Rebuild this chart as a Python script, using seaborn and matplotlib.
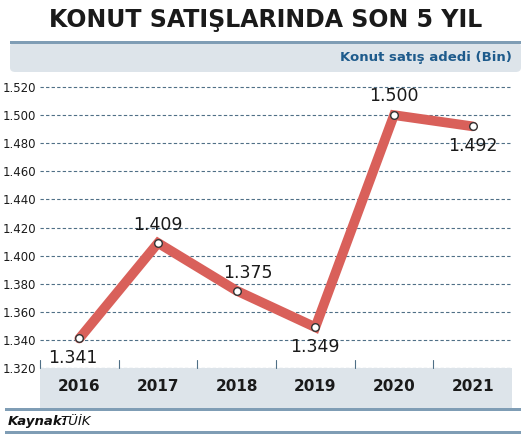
import matplotlib.pyplot as plt
import seaborn as sns
import pandas as pd
from matplotlib.patches import FancyBboxPatch, Rectangle

years = ["2016", "2017", "2018", "2019", "2020", "2021"]
sales = [1.341, 1.409, 1.375, 1.349, 1.500, 1.492]
labels = ["1.341", "1.409", "1.375", "1.349", "1.500", "1.492"]
yticks = [1.320, 1.340, 1.360, 1.380, 1.400, 1.420, 1.440, 1.460, 1.480, 1.500, 1.520]
ytick_labels = ["1.320", "1.340", "1.360", "1.380", "1.400", "1.420", "1.440",
                "1.460", "1.480", "1.500", "1.520"]
# label offsets in points (dx, dy)
label_offsets = [(-5, -14), (0, 13), (8, 13), (0, -14), (0, 14), (0, -14)]

sns.set_style("white")
plt.rcParams["font.family"] = ["DejaVu Sans"]

W, H = 531, 440
fig = plt.figure(figsize=(W / 100, H / 100), dpi=100)
df = pd.DataFrame({"x": range(len(years)), "y": sales})

# header band
fig.patches.append(FancyBboxPatch((10 / W, (H - 72) / H), 511 / W, 30 / H,
                                  boxstyle="round,pad=0,rounding_size=0.01",
                                  transform=fig.transFigure, facecolor="#dde4ea",
                                  edgecolor="none"))
fig.patches.append(Rectangle((10 / W, (H - 44) / H), 511 / W, 3 / H,
                             transform=fig.transFigure, facecolor="#7f9db5", edgecolor="none"))
# year band
fig.patches.append(Rectangle((40 / W, (H - 408) / H), 472 / W, 40 / H,
                             transform=fig.transFigure, facecolor="#dde4ea", edgecolor="none"))
fig.patches.append(Rectangle((5 / W, (H - 411) / H), 516 / W, 3 / H,
                             transform=fig.transFigure, facecolor="#7f9db5", edgecolor="none"))
fig.patches.append(Rectangle((5 / W, (H - 434) / H), 516 / W, 3 / H,
                             transform=fig.transFigure, facecolor="#7f9db5", edgecolor="none"))

fig.text(0.5, (H - 20) / H, "KONUT SATIŞLARINDA SON 5 YIL", ha="center", va="center",
         fontsize=17, fontweight="bold", color="#1a1a1a")
fig.text(512 / W, (H - 58) / H, "Konut satış adedi (Bin)", ha="right", va="center",
         fontsize=9.5, fontweight="bold", color="#1e5b8c")
fig.text(8 / W, (H - 421) / H, "Kaynak:", ha="left", va="center", fontsize=9.5,
         fontweight="bold", style="italic", color="#111")
fig.text(60 / W, (H - 421) / H, "TÜİK", ha="left", va="center", fontsize=9.5,
         style="italic", color="#111")

ax = fig.add_axes([40 / W, (H - 368) / H, 472 / W, 288 / H])
ax.set_zorder(2)
ax.set_facecolor("none")
ax.set_xlim(-0.5, 5.5)
ax.set_ylim(1.320, 1.525)
for t in yticks:
    ax.axhline(t, color="#4f6f86", lw=0.8, ls=(0, (3, 2)), zorder=0)
for b in range(6):
    ax.plot([b - 0.5, b - 0.5], [1.320, 1.326], color="#4f6f86", lw=0.8, clip_on=False)
    ax.text(b, 1.320 - 0.0135, years[b], ha="center", va="center", fontsize=11,
            fontweight="bold", color="#1a1a1a")

sns.lineplot(data=df, x="x", y="y", ax=ax, color="#d9605a", lw=7, zorder=3,
             solid_joinstyle="miter")
sns.scatterplot(data=df, x="x", y="y", ax=ax, color="white", edgecolor="#333",
                s=30, linewidth=1, zorder=4)
for i, (v, lab) in enumerate(zip(sales, labels)):
    dx, dy = label_offsets[i]
    ax.annotate(lab, (i, v), xytext=(dx, dy), textcoords="offset points",
                ha="center", va="center", fontsize=12.5, color="#1a1a1a")

ax.set_yticks(yticks)
ax.set_yticklabels(ytick_labels, fontsize=8.5, color="#1a1a1a")
ax.set_xticks([])
ax.tick_params(axis="y", length=0, pad=3)
ax.set_xlabel("")
ax.set_ylabel("")
sns.despine(ax=ax, left=True, bottom=True)

fig.savefig("out.png", dpi=100)
